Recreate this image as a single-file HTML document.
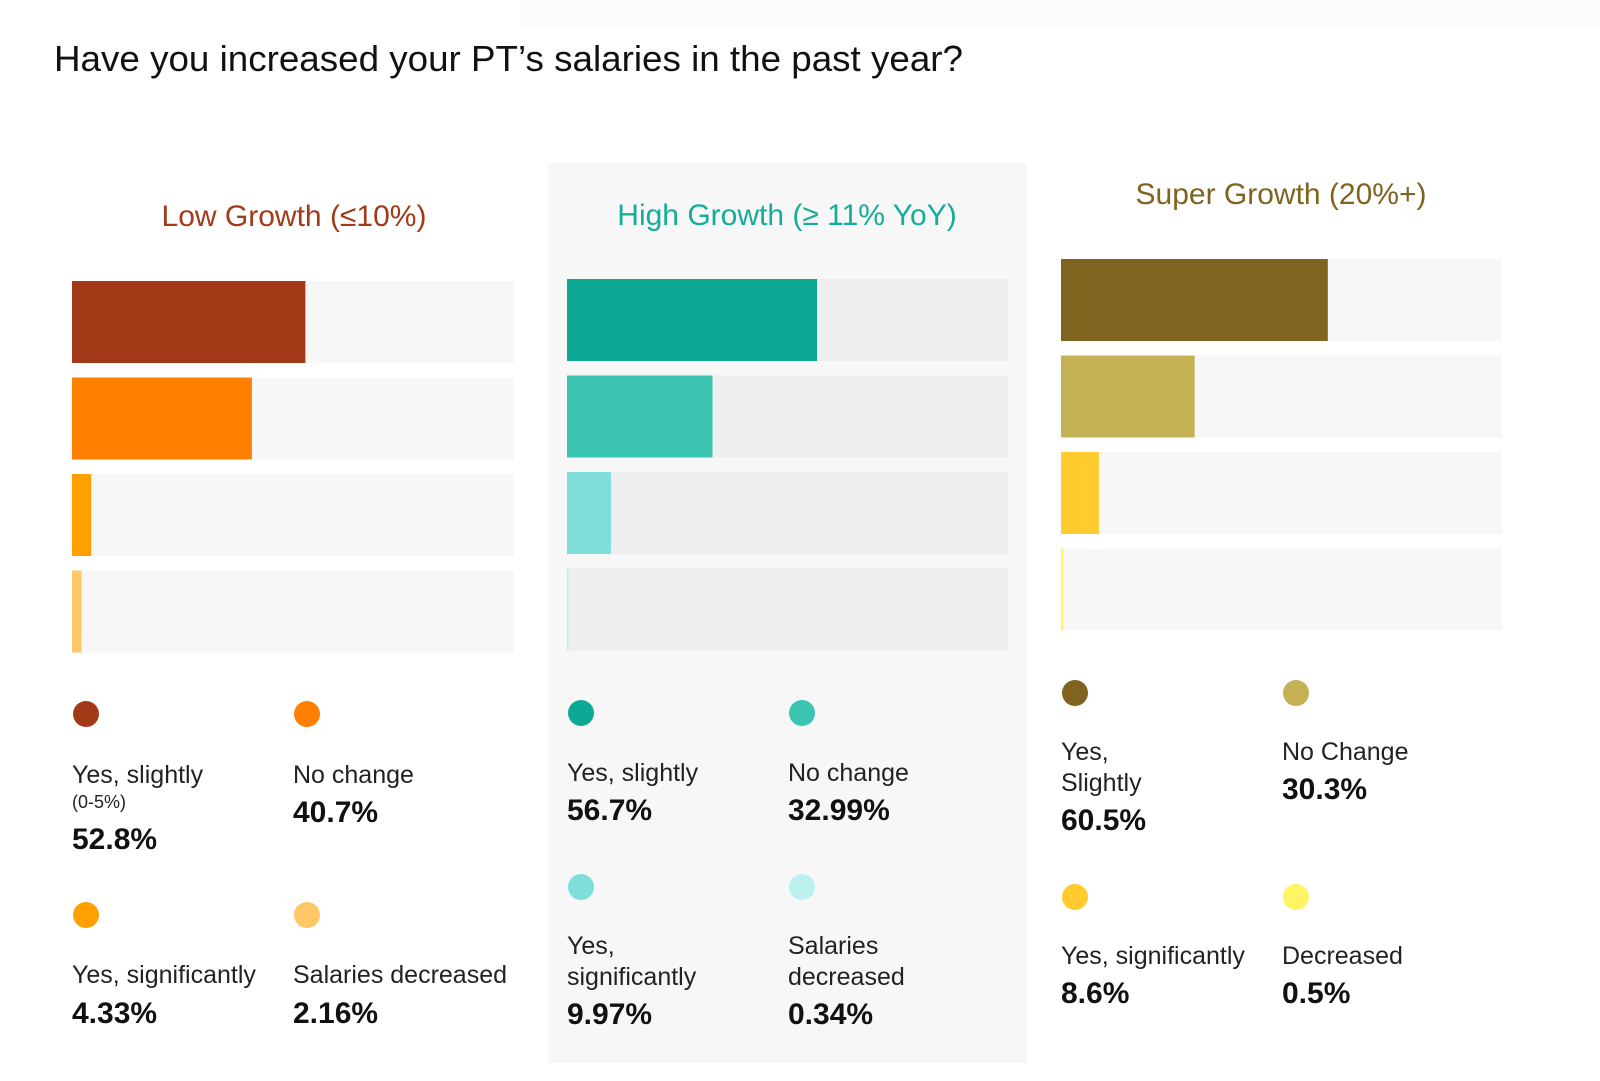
<!DOCTYPE html>
<html><head><meta charset="utf-8"><style>
html,body{margin:0;padding:0;background:#fff;}
svg{display:block;font-family:"Liberation Sans",sans-serif;}
</style></head><body>
<svg id="chart" width="1600" height="1081" viewBox="0 0 1600 1081" xmlns="http://www.w3.org/2000/svg">
<rect x="0" y="0" width="1600" height="1081" fill="#fff"/>
<rect x="520" y="0" width="1080" height="26" fill="#fcfcfc"/>
<text x="54" y="71" font-size="36" fill="#111" textLength="909" lengthAdjust="spacingAndGlyphs">Have you increased your PT’s salaries in the past year?</text>
<rect x="548" y="163" width="479" height="900" fill="#f7f7f7"/>
<g id="groups"></g>
</svg>
<script>
const groupNames = ["Low Growth (≤10%)", "High Growth (≥ 11% YoY)", "Super Growth (20%+)"];
const lowValues = [52.8, 40.7, 4.33, 2.16];
const highValues = [56.7, 32.99, 9.97, 0.34];
const superValues = [60.5, 30.3, 8.6, 0.5];
const lowLabels = [["Yes, slightly"], ["No change"], ["Yes, significantly"], ["Salaries decreased"]];
const highLabels = [["Yes, slightly"], ["No change"], ["Yes,", "significantly"], ["Salaries", "decreased"]];
const superLabels = [["Yes,", "Slightly"], ["No Change"], ["Yes, significantly"], ["Decreased"]];
const lowPrinted = ["52.8%", "40.7%", "4.33%", "2.16%"];
const highPrinted = ["56.7%", "32.99%", "9.97%", "0.34%"];
const superPrinted = ["60.5%", "30.3%", "8.6%", "0.5%"];

const NS = "http://www.w3.org/2000/svg";
const root = document.getElementById("groups");
function mk(tag, attrs, parent) {
  const e = document.createElementNS(NS, tag);
  for (const k in attrs) e.setAttribute(k, attrs[k]);
  parent.appendChild(e);
  return e;
}
const layout = [
  {x:72, w:442, titleX:294, titleY:226, barY:281, track:"#f7f7f7", head:"#a33a17",
   colors:["#a33a17","#ff7f00","#ffa000","#ffc766"], vals:lowValues, labels:lowLabels, printed:lowPrinted,
   dotY:[714,915], labY:[[783],[783],[983],[983]], valY:[849,822,1023,1023], key:"low"},
  {x:567, w:441, titleX:787, titleY:225, barY:279, track:"#eeeeee", head:"#13ad99",
   colors:["#0ea994","#3bc4b2","#7fded9","#bdf1ef"], vals:highValues, labels:highLabels, printed:highPrinted,
   dotY:[713,887], labY:[[781],[781],[954,985],[954,985]], valY:[820,820,1024,1024], key:"high"},
  {x:1061, w:441, titleX:1281, titleY:204, barY:259, track:"#f7f7f7", head:"#80631e",
   colors:["#80631e","#c4b153","#ffcb2f","#fff463"], vals:superValues, labels:superLabels, printed:superPrinted,
   dotY:[693,897], labY:[[760,791],[760],[964],[964]], valY:[830,799,1003,1003], key:"super"}
];
const pitch = 96.5, bh = 82;
function xScale(g, v) { return g.w * v / 100; }
layout.forEach((g, gi) => {
  const grp = mk("g", {}, root);
  
  
  const t = mk("text", {x:g.titleX, y:g.titleY, "font-size":30, fill:g.head, "text-anchor":"middle"}, grp);
  t.textContent = groupNames[gi];
  
  
  g.vals.forEach((v, i) => {
    const y = g.barY + i * pitch;
    const tr = mk("rect", {x:g.x, y:y, width:g.w, height:bh, fill:g.track}, grp);
    
    
    const b = mk("rect", {x:g.x, y:y, width:Math.max(xScale(g, v), 0.5), height:bh, fill:g.colors[i]}, grp);
    
    
    const col = i % 2, row = Math.floor(i / 2);
    const lx = g.x + col * 221;
    const d = mk("circle", {cx:lx + 14, cy:g.dotY[row], r:13, fill:g.colors[i]}, grp);
    
    
    g.labels[i].forEach((line, li) => {
      const lt = mk("text", {x:lx, y:g.labY[i][li], "font-size":25, fill:"#222"}, grp);
      lt.textContent = line;
      
      
    });
    if (gi === 0 && i === 0) {
      const s = mk("text", {x:lx, y:808, "font-size":18, fill:"#222"}, grp);
      s.textContent = "(0-5%)";
      
      
    }
    const vt = mk("text", {x:lx, y:g.valY[i], "font-size":30, "font-weight":"bold", fill:"#111"}, grp);
    vt.textContent = g.printed[i];
    
    
  });
});
</script>
</body></html>
